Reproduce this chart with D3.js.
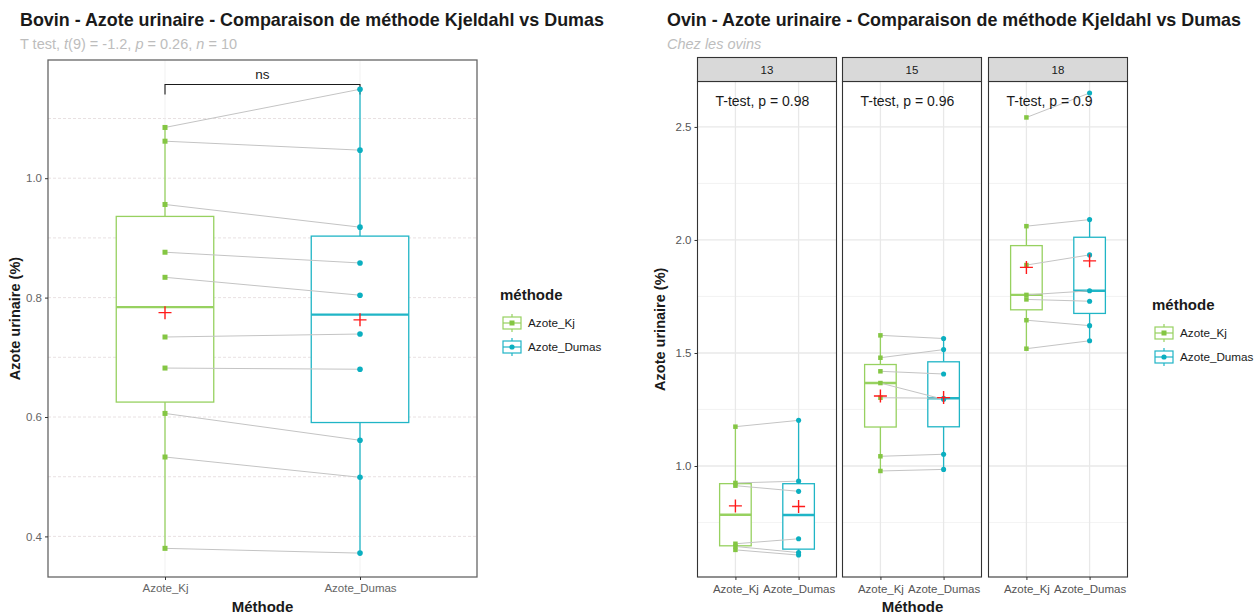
<!DOCTYPE html>
<html>
<head>
<meta charset="utf-8">
<script src="https://cdn.jsdelivr.net/npm/d3@7"></script>
<style>
  body { margin: 0; background: #fff; }
  svg { display: block; font-family: "Liberation Sans", Arial, sans-serif; }
</style>
</head>
<body>
<svg id="chart" width="1258" height="614"></svg>
<script>
// ---------------- DATA ----------------
const categories = ["Azote_Kj", "Azote_Dumas"];
const legendTitle = "méthode";

// Bovin (paired)
const bovinKj    = [1.085, 1.062, 0.956, 0.876, 0.834, 0.734, 0.682, 0.606, 0.533, 0.380];
const bovinDumas = [1.149, 1.047, 0.918, 0.858, 0.804, 0.739, 0.680, 0.561, 0.499, 0.372];
const bovinTicks = [0.4, 0.6, 0.8, 1.0];
const bovinMinor = [0.5, 0.7, 0.9, 1.1];

// Ovin (paired, by facet)
const ovinFacets = ["13", "15", "18"];
const ovinKj13    = [1.174, 0.925, 0.913, 0.656, 0.644, 0.629];
const ovinDumas13 = [1.202, 0.933, 0.888, 0.678, 0.617, 0.606];
const ovinKj15    = [1.578, 1.479, 1.419, 1.367, 1.302, 1.043, 0.978];
const ovinDumas15 = [1.564, 1.515, 1.407, 1.295, 1.300, 1.052, 0.985];
const ovinKj18    = [2.542, 2.061, 1.889, 1.757, 1.737, 1.645, 1.519];
const ovinDumas18 = [2.650, 2.090, 1.934, 1.775, 1.729, 1.621, 1.554];
const ovinPValues = ["0.98", "0.96", "0.9"];
const ovinTicks = [1.0, 1.5, 2.0, 2.5];
const ovinMinor = [0.75, 1.25, 1.75, 2.25];

// ---------------- STYLE ----------------
const colKjBox = "#97D160", colKjPt = "#84C643";
const colDuBox = "#20B5C6", colDuPt = "#0BAFC0";
const colorBox = {Azote_Kj: colKjBox, Azote_Dumas: colDuBox};
const colorPt = {Azote_Kj: colKjPt, Azote_Dumas: colDuPt};

const svg = d3.select("#chart");
const fmt1 = d3.format(".1f");

function boxStats(vals) {
  const s = vals.slice().sort(d3.ascending);
  const q1 = d3.quantile(s, 0.25), med = d3.quantile(s, 0.5), q3 = d3.quantile(s, 0.75);
  const iqr = q3 - q1;
  const lo = d3.min(s.filter(v => v >= q1 - 1.5 * iqr));
  const hi = d3.max(s.filter(v => v <= q3 + 1.5 * iqr));
  return {q1, med, q3, lo, hi, mean: d3.mean(s)};
}

function drawBoxPanel(g, x, y, kj, du, boxW, ptSize) {
  const groups = [{k: "Azote_Kj", v: kj}, {k: "Azote_Dumas", v: du}];
  groups.forEach(gr => {
    const st = boxStats(gr.v);
    const cx = x(gr.k), c = colorBox[gr.k];
    g.append("line").attr("x1", cx).attr("x2", cx).attr("y1", y(st.q3)).attr("y2", y(st.hi))
      .attr("stroke", c).attr("stroke-width", 1.3);
    g.append("line").attr("x1", cx).attr("x2", cx).attr("y1", y(st.q1)).attr("y2", y(st.lo))
      .attr("stroke", c).attr("stroke-width", 1.3);
    g.append("rect").attr("x", cx - boxW / 2).attr("y", y(st.q3)).attr("width", boxW)
      .attr("height", y(st.q1) - y(st.q3)).attr("fill", "white").attr("stroke", c).attr("stroke-width", 1.3);
    g.append("line").attr("x1", cx - boxW / 2).attr("x2", cx + boxW / 2).attr("y1", y(st.med)).attr("y2", y(st.med))
      .attr("stroke", c).attr("stroke-width", 2.4);
  });
  kj.forEach((v, i) => {
    g.append("line").attr("x1", x("Azote_Kj")).attr("x2", x("Azote_Dumas"))
      .attr("y1", y(v)).attr("y2", y(du[i])).attr("stroke", "#C4C4C4").attr("stroke-width", 1);
  });
  kj.forEach(v => {
    g.append("rect").attr("x", x("Azote_Kj") - ptSize / 2).attr("y", y(v) - ptSize / 2)
      .attr("width", ptSize).attr("height", ptSize).attr("fill", colKjPt);
  });
  du.forEach(v => {
    g.append("circle").attr("cx", x("Azote_Dumas")).attr("cy", y(v)).attr("r", ptSize / 2 + 0.3).attr("fill", colDuPt);
  });
  groups.forEach(gr => {
    const st = boxStats(gr.v);
    const cx = x(gr.k), cy = y(st.mean), r = 6.5;
    g.append("path").attr("d", `M${cx - r},${cy}H${cx + r}M${cx},${cy - r}V${cy + r}`)
      .attr("stroke", "#FF1A1A").attr("stroke-width", 1.4).attr("fill", "none");
  });
}

function drawLegend(g, x0, y0) {
  g.append("text").attr("x", x0).attr("y", y0).attr("font-size", 15).attr("font-weight", "bold")
    .attr("fill", "#1a1a1a").text(legendTitle);
  categories.forEach((c, i) => {
    const ky = y0 + 23 + i * 24;
    const kx = x0 + 3;
    const k = g.append("g");
    k.append("line").attr("x1", kx + 9).attr("x2", kx + 9).attr("y1", ky - 9).attr("y2", ky + 9)
      .attr("stroke", colorBox[c]).attr("stroke-width", 1.2);
    k.append("rect").attr("x", kx).attr("y", ky - 6).attr("width", 18).attr("height", 12)
      .attr("fill", "white").attr("stroke", colorBox[c]).attr("stroke-width", 1.2);
    k.append("line").attr("x1", kx).attr("x2", kx + 18).attr("y1", ky).attr("y2", ky)
      .attr("stroke", colorBox[c]).attr("stroke-width", 1.2);
    if (i === 0) k.append("rect").attr("x", kx + 6.5).attr("y", ky - 2.5).attr("width", 5).attr("height", 5).attr("fill", colorPt[c]);
    else k.append("circle").attr("cx", kx + 9).attr("cy", ky).attr("r", 2.6).attr("fill", colorPt[c]);
    g.append("text").attr("x", x0 + 28).attr("y", ky + 4).attr("font-size", 11.7).attr("fill", "#1a1a1a").text(c);
  });
}

// ================= LEFT : BOVIN =================
{
  const L = {left: 48, right: 477, top: 60, bottom: 577};
  const x = d3.scalePoint().domain(categories).range([L.left, L.right]).padding(0.6);
  const y = d3.scaleLinear().domain([0.332, 1.198]).range([L.bottom, L.top]);
  const g = svg.append("g");

  svg.append("text").attr("x", 20).attr("y", 26).attr("font-size", 17.9).attr("font-weight", "bold")
    .attr("fill", "#1a1a1a").text("Bovin - Azote urinaire - Comparaison de méthode Kjeldahl vs Dumas");
  const st = svg.append("text").attr("x", 20).attr("y", 49).attr("font-size", 14.5).attr("fill", "#BDBDBD");
  st.append("tspan").text("T test, ");
  st.append("tspan").attr("font-style", "italic").text("t");
  st.append("tspan").text("(9) = -1.2, ");
  st.append("tspan").attr("font-style", "italic").text("p");
  st.append("tspan").text(" = 0.26, ");
  st.append("tspan").attr("font-style", "italic").text("n");
  st.append("tspan").text(" = 10");

  bovinMinor.concat(bovinTicks).forEach(t => {
    g.append("line").attr("x1", L.left).attr("x2", L.right).attr("y1", y(t)).attr("y2", y(t))
      .attr("stroke", "#E2D9DA").attr("stroke-width", 0.8).attr("stroke-dasharray", "3,2");
  });
  categories.forEach(c => {
    g.append("line").attr("x1", x(c)).attr("x2", x(c)).attr("y1", L.top).attr("y2", L.bottom)
      .attr("stroke", "#EEEEEE").attr("stroke-width", 0.8);
  });

  const yb = y(1.157), tip = 10;
  g.append("path").attr("d", `M${x("Azote_Kj")},${yb + tip}V${yb}H${x("Azote_Dumas")}V${yb + tip}`)
    .attr("fill", "none").attr("stroke", "#1a1a1a").attr("stroke-width", 1.1);
  g.append("text").attr("x", (x("Azote_Kj") + x("Azote_Dumas")) / 2).attr("y", yb - 5)
    .attr("text-anchor", "middle").attr("font-size", 13.5).attr("fill", "#1a1a1a").text("ns");

  drawBoxPanel(g, x, y, bovinKj, bovinDumas, 0.5 * x.step(), 5);

  g.append("rect").attr("x", L.left).attr("y", L.top).attr("width", L.right - L.left).attr("height", L.bottom - L.top)
    .attr("fill", "none").attr("stroke", "#666").attr("stroke-width", 1.3);

  const ya = g.append("g").attr("transform", `translate(${L.left},0)`)
    .call(d3.axisLeft(y).tickValues(bovinTicks).tickFormat(fmt1).tickSize(3).tickPadding(3));
  ya.select(".domain").remove();
  ya.selectAll("line").attr("stroke", "#333");
  ya.selectAll("text").attr("font-size", 11.5).attr("fill", "#666").attr("font-family", "Liberation Sans, Arial");
  const xa = g.append("g").attr("transform", `translate(0,${L.bottom})`)
    .call(d3.axisBottom(x).tickSize(3).tickPadding(4));
  xa.select(".domain").remove();
  xa.selectAll("line").attr("stroke", "#333");
  xa.selectAll("text").attr("font-size", 11.5).attr("fill", "#666").attr("font-family", "Liberation Sans, Arial");

  svg.append("text").attr("transform", `translate(20,${(L.top + L.bottom) / 2}) rotate(-90)`)
    .attr("text-anchor", "middle").attr("font-size", 14.5).attr("font-weight", "bold").attr("fill", "#1a1a1a")
    .text("Azote urinaire (%)");
  svg.append("text").attr("x", (L.left + L.right) / 2).attr("y", 612).attr("text-anchor", "middle")
    .attr("font-size", 15).attr("font-weight", "bold").attr("fill", "#1a1a1a").text("Méthode");

  drawLegend(svg.append("g"), 500, 300);
}

// ================= RIGHT : OVIN =================
{
  const panels = [[697.5, 836.5], [842.5, 981.5], [988.5, 1127.5]];
  const T = {stripTop: 57.5, top: 81.5, bottom: 577};
  const y = d3.scaleLinear().domain([0.509, 2.701]).range([T.bottom, T.top]);
  const kjSets = [ovinKj13, ovinKj15, ovinKj18];
  const duSets = [ovinDumas13, ovinDumas15, ovinDumas18];

  svg.append("text").attr("x", 667).attr("y", 26).attr("font-size", 17.9).attr("font-weight", "bold")
    .attr("fill", "#1a1a1a").text("Ovin - Azote urinaire - Comparaison de méthode Kjeldahl vs Dumas");
  svg.append("text").attr("x", 667).attr("y", 49).attr("font-size", 14.5).attr("font-style", "italic")
    .attr("fill", "#BDBDBD").text("Chez les ovins");

  ovinFacets.forEach((f, i) => {
    const [pl, pr] = panels[i];
    const x = d3.scalePoint().domain(categories).range([pl, pr]).padding(0.6);
    const g = svg.append("g");
    ovinMinor.forEach(t => g.append("line").attr("x1", pl).attr("x2", pr).attr("y1", y(t)).attr("y2", y(t))
      .attr("stroke", "#F0F0F0").attr("stroke-width", 0.8));
    ovinTicks.forEach(t => g.append("line").attr("x1", pl).attr("x2", pr).attr("y1", y(t)).attr("y2", y(t))
      .attr("stroke", "#E8E8E8").attr("stroke-width", 1.3));
    categories.forEach(c => g.append("line").attr("x1", x(c)).attr("x2", x(c)).attr("y1", T.top).attr("y2", T.bottom)
      .attr("stroke", "#E8E8E8").attr("stroke-width", 1.3));

    drawBoxPanel(g, x, y, kjSets[i], duSets[i], 0.5 * x.step(), 4.5);

    g.append("text").attr("x", pl + 18).attr("y", 106).attr("font-size", 14).attr("fill", "#1a1a1a")
      .text("T-test, p = " + ovinPValues[i]);

    g.append("rect").attr("x", pl).attr("y", T.top).attr("width", pr - pl).attr("height", T.bottom - T.top)
      .attr("fill", "none").attr("stroke", "#333").attr("stroke-width", 1.1);
    g.append("rect").attr("x", pl).attr("y", T.stripTop).attr("width", pr - pl).attr("height", T.top - T.stripTop)
      .attr("fill", "#D9D9D9").attr("stroke", "#333").attr("stroke-width", 1.1);
    g.append("text").attr("x", (pl + pr) / 2).attr("y", (T.stripTop + T.top) / 2 + 4).attr("text-anchor", "middle")
      .attr("font-size", 11.5).attr("fill", "#1a1a1a").text(f);

    const xa = g.append("g").attr("transform", `translate(0,${T.bottom})`)
      .call(d3.axisBottom(x).tickSize(3).tickPadding(5));
    xa.select(".domain").remove();
    xa.selectAll("line").attr("stroke", "#333");
    xa.selectAll("text").attr("font-size", 11.5).attr("fill", "#555").attr("font-family", "Liberation Sans, Arial");
  });

  const ya = svg.append("g").attr("transform", `translate(${panels[0][0]},0)`)
    .call(d3.axisLeft(y).tickValues(ovinTicks).tickFormat(fmt1).tickSize(3).tickPadding(3));
  ya.select(".domain").remove();
  ya.selectAll("line").attr("stroke", "#333");
  ya.selectAll("text").attr("font-size", 11.5).attr("fill", "#555").attr("font-family", "Liberation Sans, Arial");

  svg.append("text").attr("transform", `translate(665,${(T.top + T.bottom) / 2}) rotate(-90)`)
    .attr("text-anchor", "middle").attr("font-size", 14.5).attr("font-weight", "bold").attr("fill", "#1a1a1a")
    .text("Azote urinaire (%)");
  svg.append("text").attr("x", (panels[0][0] + panels[2][1]) / 2).attr("y", 612).attr("text-anchor", "middle")
    .attr("font-size", 15).attr("font-weight", "bold").attr("fill", "#1a1a1a").text("Méthode");

  drawLegend(svg.append("g"), 1152, 310);
}
</script>
</body>
</html>
